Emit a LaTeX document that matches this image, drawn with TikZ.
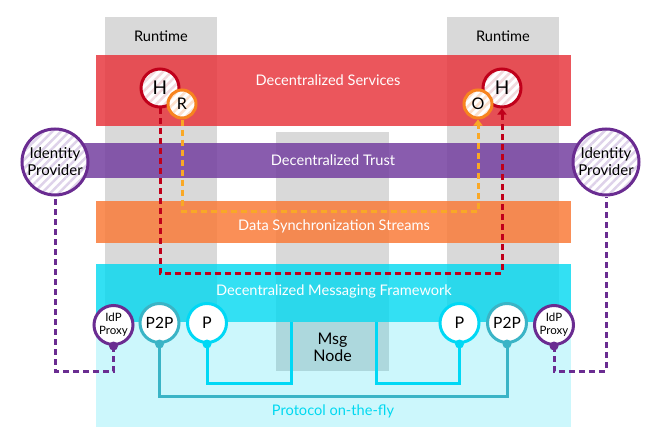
\documentclass[tikz,border=0pt]{standalone}
\usepackage{fontspec}
\setmainfont{Lato}
\usetikzlibrary{arrows.meta,patterns.meta}
\definecolor{graycol}{HTML}{D9D9D9}
\definecolor{redband}{HTML}{E8383F}
\definecolor{purpband}{HTML}{7440A0}
\definecolor{orband}{HTML}{F97B3A}
\definecolor{cyanbase}{HTML}{00D8F0}
\definecolor{hred}{HTML}{C0001A}
\definecolor{hpink}{HTML}{F2D9DD}
\definecolor{rorange}{HTML}{F7841F}
\definecolor{rpeach}{HTML}{FCE0CC}
\definecolor{idpurp}{HTML}{6A2C91}
\definecolor{lav}{HTML}{DED2EA}
\definecolor{yel}{HTML}{F9A826}
\definecolor{pcyan}{HTML}{00D8F5}
\definecolor{teal}{HTML}{3AB4C6}
\pgfdeclarelayer{bg}
\pgfdeclarelayer{lines}
\pgfsetlayers{bg,lines,main}
\begin{document}
\begin{tikzpicture}[x=1pt,y=-1pt,
  bandtxt/.style={text=white,font=\fontsize{14.6}{16}\selectfont},
  circ/.style={circle,inner sep=0pt,line width=3pt,preaction={fill=white},align=center,text=black},
  hatched/.style={pattern={Lines[angle=45,distance=6pt,line width=2.5pt]},pattern color=#1},
  dotn/.style={circle,inner sep=0pt,minimum size=9pt,fill=#1},
  dsh/.style={line width=3pt,dash pattern=on 6pt off 4pt},
  tip/.style={-{Triangle[width=9pt,length=6pt]}},
  solid line/.style={line width=3pt}
]
\useasboundingbox (0,0) rectangle (662,447);
\begin{pgfonlayer}{bg}
  \fill[graycol] (105,17) rectangle (217,322);
  \fill[graycol] (447,17) rectangle (559,322);
  \fill[graycol] (276,132) rectangle (389,371);
  \fill[cyanbase,opacity=0.2] (96,264) rectangle (571,427);
  \fill[redband,opacity=0.85] (96,55) rectangle (571,126);
  \fill[purpband,opacity=0.85] (60,143) rectangle (600,178);
  \fill[orband,opacity=0.85] (96,201) rectangle (571,243);
  \fill[cyanbase,opacity=0.75] (96,264) rectangle (571,322);
\end{pgfonlayer}

\node[font=\fontsize{14.6}{16}\selectfont] (rt1) at (161,36) {Runtime};
\node[font=\fontsize{14.6}{16}\selectfont] (rt2) at (503,36) {Runtime};
\node[bandtxt] (svc) at (328,80) {Decentralized Services};
\node[bandtxt] (trust) at (333,160) {Decentralized Trust};
\node[bandtxt] (sync) at (334,226) {Data Synchronization Streams};
\node[bandtxt] (msgfw) at (334,291) {Decentralized Messaging Framework};
\node[text=cyanbase,font=\fontsize{14.6}{16}\selectfont] (proto) at (333,411) {Protocol on-the-fly};
\node[font=\fontsize{16}{17}\selectfont,align=center] (msg) at (332.5,347) {Msg\\Node};

\node[circ,minimum size=38pt,draw=hred,hatched=hpink,font=\fontsize{19}{19}\selectfont] (Hl) at (160,88) {H};
\node[circ,minimum size=28pt,draw=rorange,hatched=rpeach,font=\fontsize{16}{16}\selectfont] (R) at (182,104) {R};
\node[circ,minimum size=38pt,draw=hred,hatched=hpink,font=\fontsize{19}{19}\selectfont] (Hr) at (502,88) {H};
\node[circ,minimum size=28pt,draw=rorange,hatched=rpeach,font=\fontsize{16}{16}\selectfont] (O) at (478,104) {O};

\node[circ,minimum size=66pt,draw=idpurp,hatched=lav,font=\fontsize{15}{17}\selectfont] (idpL) at (55,162) {Identity\\Provider};
\node[circ,minimum size=66pt,draw=idpurp,hatched=lav,font=\fontsize{15}{17}\selectfont] (idpR) at (606,162) {Identity\\Provider};

\node[circ,minimum size=39pt,draw=idpurp,font=\fontsize{11.5}{13}\selectfont] (pxL) at (113.5,325) {IdP\\Proxy};
\node[circ,minimum size=39pt,draw=teal,font=\fontsize{15.5}{15.5}\selectfont] (p2pL) at (159.5,323) {P2P};
\node[circ,minimum size=39pt,draw=pcyan,font=\fontsize{16}{16}\selectfont] (pL) at (207,323) {P};
\node[circ,minimum size=39pt,draw=pcyan,font=\fontsize{16}{16}\selectfont] (pR) at (459.5,323) {P};
\node[circ,minimum size=39pt,draw=teal,font=\fontsize{15.5}{15.5}\selectfont] (p2pR) at (507,323) {P2P};
\node[circ,minimum size=39pt,draw=idpurp,font=\fontsize{11.5}{13}\selectfont] (pxR) at (554,325) {IdP\\Proxy};

\node[dotn=idpurp] (pxLd) at (pxL.south) {};
\node[dotn=teal] (p2pLd) at (p2pL.south) {};
\node[dotn=pcyan] (pLd) at (pL.south) {};
\node[dotn=pcyan] (pRd) at (pR.south) {};
\node[dotn=teal] (p2pRd) at (p2pR.south) {};
\node[dotn=idpurp] (pxRd) at (pxR.south) {};

\coordinate (redturn) at (330,273);
\coordinate (orturn) at (330,211);
\coordinate (pbotL) at (291,383);
\coordinate (msgL) at (291,322);
\coordinate (pbotR) at (376,383);
\coordinate (msgR) at (376,322);
\coordinate (tealbot) at (330,396);
\coordinate (purpL) at (55,371);
\coordinate (purpR) at (606,371);

\begin{pgfonlayer}{lines}
  \draw[dsh,hred,tip] (Hl.south) |- (redturn) -| (Hr.south);
  \draw[dsh,yel,tip] (R.south) |- (orturn) -| (O.south);
  \draw[dsh,idpurp] (pxLd.center) |- (purpL) -- (idpL.south);
  \draw[dsh,idpurp] (pxRd.center) |- (purpR) -- (idpR.south);
  \draw[solid line,pcyan] (pLd.center) |- (pbotL) -- (msgL);
  \draw[solid line,pcyan] (pRd.center) |- (pbotR) -- (msgR);
  \draw[solid line,teal] (p2pLd.center) |- (tealbot) -| (p2pRd.center);
\end{pgfonlayer}
\end{tikzpicture}
\end{document}
